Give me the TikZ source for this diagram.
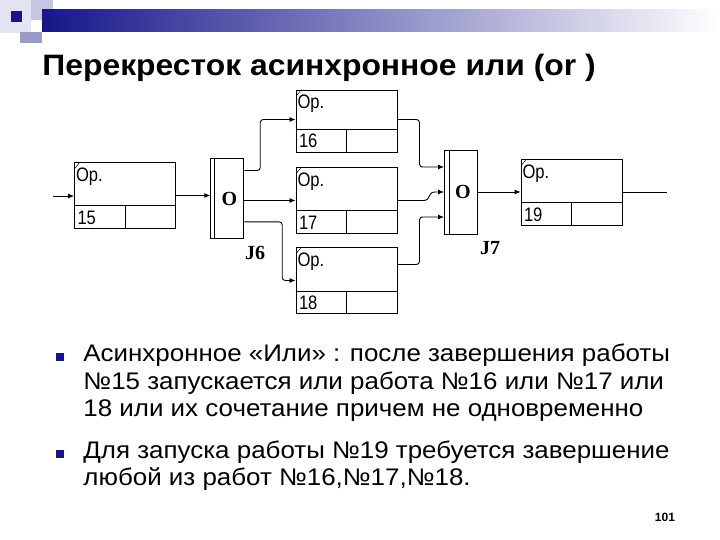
\documentclass[tikz,border=0pt]{standalone}
\usepackage{fontspec}
\setmainfont{Liberation Sans}
\newfontfamily\jointfont{Liberation Serif}
\usetikzlibrary{positioning,arrows.meta,calc}
\definecolor{navy}{HTML}{16168A}
\definecolor{lavlight}{HTML}{E4E4F2}
\definecolor{lavmid}{HTML}{C6C6E2}
\definecolor{lavdark}{HTML}{9A9AC8}
\newcommand{\wide}[1]{\scalebox{1.08}[1]{#1}}
\newcommand{\slim}[1]{\scalebox{0.85}[1]{#1}}

\begin{document}
\begin{tikzpicture}[x=1pt, y=-1pt, >={Latex[length=6pt,width=5pt]}, line width=0.9pt,
    jobbox/.style={draw, minimum width=101pt, minimum height=66pt, inner sep=0pt},
    joint/.style={draw, minimum width=33pt, minimum height=80pt, inner sep=0pt},
    jointlabel/.style={font=\jointfont\bfseries\fontsize{20}{20}\selectfont},
    wire/.style={rounded corners=3pt},
    boxtext/.style={inner sep=0pt, anchor=base west, font=\fontsize{19.5}{19.5}\selectfont},
    bodytext/.style={inner sep=0pt, anchor=base west, font=\fontsize{24}{24}\selectfont},
    bulletmark/.style={fill=navy, minimum size=8pt, inner sep=0pt, anchor=south west}]
  \useasboundingbox (0,0) rectangle (720,540);
  % slide header
  \fill[lavlight] (0,0) rectangle (31,33);
  \fill[lavmid] (31,0) rectangle (53,20);
  \fill[lavdark] (20,32) rectangle (42,43);
  \fill[navy] (11,11) rectangle (22,22);
  \shade[left color=navy, middle color=navy!55!white, right color=white] (42,10) rectangle (720,32);
  \node[inner sep=0pt, anchor=base west, font=\bfseries\fontsize{29.5}{29.5}\selectfont] (title) at (42,76) {\wide{Перекресток асинхронное или (or )}};

  % works
  \node[jobbox] (b15) at (125,195.5) {};
  \node[jobbox, minimum height=62pt] (b16) at (346.5,121) {};
  \node[jobbox] (b17) at (346.5,200.5) {};
  \node[jobbox] (b18) at (346.5,280.5) {};
  \node[jobbox] (b19) at (571.5,192.5) {};
  \foreach \b/\n in {b15/15,b16/16,b17/17,b18/18,b19/19} {
    \draw ($(\b.south west)+(0,-23)$) -- ($(\b.south east)+(0,-23)$);
    \draw ($(\b.south west)+(51,0)$) -- ($(\b.south west)+(51,-23)$);
    \draw[line width=0.5pt] ($(\b.north west)+(1,6)$) -- ($(\b.north west)+(6,0)$);
    \node[boxtext] at ($(\b.north west)+(1.5,19)$) {\slim{Ор.}};
    \node[boxtext] at ($(\b.south west)+(3,-4.5)$) {\slim{\n}};
  }

  % junctions
  \node[joint] (j6) at (227.3,198.5) {};
  \draw ($(j6.north west)+(4.5,0)$) -- ($(j6.south west)+(4.5,0)$);
  \node[jointlabel] at ($(j6.center)+(2,0)$) {O};
  \node[jointlabel] (j6name) at (255,253) {J6};
  \node[joint, minimum height=84pt] (j7) at (461,192) {};
  \draw ($(j7.north west)+(5,0)$) -- ($(j7.south west)+(5,0)$);
  \node[jointlabel] at ($(j7.center)+(2,0)$) {O};
  \node[jointlabel] (j7name) at (490,248) {J7};

  % connectors
  \coordinate (src) at (53,196);
  \coordinate (sink) at (667,192.5);
  \draw[->] (src) -- (src -| b15.west);
  \draw[->] (b15.east) -- (b15.east -| j6.west);
  \draw[->, wire] ($(j6.north east)+(0,12.5)$) -- ++(16,0) |- ($(b16.west)+(0,-1.5)$);
  \draw[->] (j6.east |- b17.west) -- (b17.west);
  \draw[->, wire] ($(j6.south east)+(0,-17)$) -- ++(38,0) |- (b18.west);
  \draw[->, wire] ($(b16.east)+(0,-1.5)$) -- ++(22,0) |- ($(j7.west)+(0,-25)$);
  \draw[->] (b17.east) -- ($(b17.east)+(26,0)$) .. controls ($(b17.east)+(34,0)$) and ($(j7.west)+(-17,0)$) .. ($(j7.west)+(-9,0)$) -- (j7.west);
  \draw[->, wire] ($(b18.east)+(0,-16)$) -- ++(22,0) |- ($(j7.west)+(0,25)$);
  \draw[->] (j7.east) -- (j7.east -| b19.west);
  \draw (b19.east) -- (sink);

  % bullet text
  \node[bulletmark] (m1) at (56,361.5) {};
  \node[bodytext] (t1) at (83,361.5) {\wide{Асинхронное «Или» : после завершения работы}};
  \node[bodytext] (t2) at (83,389) {\wide{№15 запускается или работа №16 или №17 или}};
  \node[bodytext] (t3) at (83,416.5) {\wide{18 или их сочетание причем не одновременно}};
  \node[bulletmark] (m2) at (56,458) {};
  \node[bodytext] (t4) at (83,458) {\wide{Для запуска работы №19 требуется завершение}};
  \node[bodytext] (t5) at (83,485.5) {\wide{любой из работ №16,№17,№18.}};
  \node[font=\bfseries\fontsize{12}{12}\selectfont] (page) at (665,517) {101};
\end{tikzpicture}
\end{document}
